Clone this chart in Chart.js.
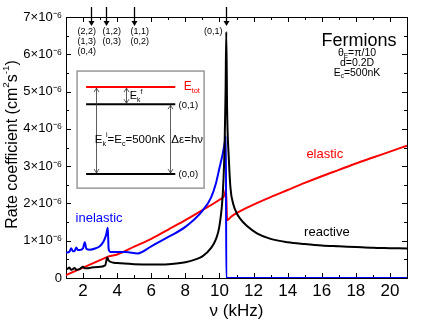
<!DOCTYPE html>
<html>
<head>
<meta charset="utf-8">
<script src="https://cdn.jsdelivr.net/npm/chart.js@4/dist/chart.umd.min.js"></script>
<style>
html, body { margin: 0; padding: 0; background: #fff; }
#wrap { width: 423px; height: 327px; position: relative; }
</style>
</head>
<body>
<div id="wrap"><canvas id="chart"></canvas></div>
<script>
const FONT = '"Liberation Sans", Arial, sans-serif';

// frequency nu in kHz, rates in units of 1e-6 cm^2 s^-1
const reactiveNu = [1.0, 1.1, 1.2, 1.3, 1.4, 1.5, 1.6, 1.8, 2.0, 2.1, 2.2, 2.5, 3.0, 3.3, 3.42, 3.5, 3.7, 4.0, 5.0, 6.0, 7.0, 8.0, 8.6, 9.0, 9.5, 9.8, 10.0, 10.2, 10.3, 10.36, 10.4, 10.45, 10.55, 10.65, 10.8, 11.0, 11.2, 11.6, 12.2, 13.0, 14.0, 15.0, 16.0, 17.0, 18.0, 19.0, 20.0, 21.0];
const reactiveRate = [0.22, 0.25, 0.28, 0.22, 0.24, 0.27, 0.22, 0.24, 0.3, 0.26, 0.26, 0.28, 0.3, 0.34, 0.55, 0.47, 0.42, 0.4, 0.37, 0.36, 0.37, 0.42, 0.5, 0.58, 0.8, 1.05, 1.4, 2.3, 3.5, 5.0, 6.6, 4.5, 3.2, 2.4, 2.0, 1.75, 1.6, 1.4, 1.2, 1.05, 0.96, 0.91, 0.87, 0.85, 0.83, 0.81, 0.8, 0.79];

const inelasticNu = [1.0, 1.2, 1.3, 1.4, 1.5, 1.6, 1.7, 1.8, 2.0, 2.1, 2.2, 2.4, 2.7, 3.0, 3.2, 3.35, 3.45, 3.5, 3.6, 4.0, 4.5, 5.2, 6.0, 7.0, 8.0, 9.0, 9.5, 9.8, 10.0, 10.2, 10.3, 10.38, 10.4, 12.0, 14.0, 16.0, 18.0, 20.0, 21.0];
const inelasticRate = [0.68, 0.7, 0.8, 0.72, 0.72, 0.82, 0.75, 0.75, 0.8, 0.96, 0.78, 0.76, 0.79, 0.86, 0.98, 1.15, 1.35, 0.78, 0.7, 0.7, 0.7, 0.66, 0.85, 1.1, 1.37, 1.8, 2.15, 2.55, 2.95, 3.35, 3.6, 3.8, 0, 0, 0, 0, 0, 0, 0];

const elasticNu = [1.0, 2.0, 3.0, 3.4, 3.5, 4.0, 5.0, 6.0, 7.0, 8.0, 9.0, 10.0, 10.3, 10.38, 10.45, 10.7, 11.0, 11.5, 12.0, 13.0, 14.0, 15.0, 16.0, 17.0, 18.0, 19.0, 20.0, 21.0];
const elasticRate = [0.08, 0.28, 0.48, 0.56, 0.58, 0.63, 0.84, 1.05, 1.3, 1.55, 1.82, 2.1, 2.22, 2.38, 1.55, 1.65, 1.74, 1.86, 1.97, 2.17, 2.36, 2.55, 2.73, 2.9, 3.07, 3.23, 3.39, 3.55];

// thresholds marked with arrows on top
const thresholdNu = [2.47, 3.35, 5.0, 10.4];
const thresholdLabels = [['(2,2)', '(1,3)', '(0,4)'], ['(1,2)', '(0,3)'], ['(1,1)', '(0,2)'], ['(0,1)']];

const xMin = 1, xMax = 21, yMin = 0, yMax = 7;

function toPoints(xs, ys) {
    return xs.map((x, i) => ({ x: x, y: ys[i] }));
}

function richText(ctx, parts, x, y, size, color, align) {
    const small = size * 0.62;
    const widths = parts.map(([t, m]) => {
        ctx.font = (m ? small : size) + 'px ' + FONT;
        return ctx.measureText(t).width;
    });
    const total = widths.reduce((a, b) => a + b, 0);
    let cx = align === 'center' ? x - total / 2 : (align === 'right' ? x - total : x);
    ctx.textAlign = 'left';
    ctx.textBaseline = 'middle';
    ctx.fillStyle = color;
    parts.forEach(([t, m], i) => {
        ctx.font = (m ? small : size) + 'px ' + FONT;
        const dy = m === 'sub' ? size * 0.35 : (m === 'sup' ? -size * 0.4 : 0);
        ctx.fillText(t, cx, y + dy);
        cx += widths[i];
    });
}

function doubleArrow(ctx, x, y1, y2) {
    const h = 4, w = 2.5;
    ctx.beginPath();
    ctx.moveTo(x, y1); ctx.lineTo(x, y2);
    ctx.moveTo(x - w, y1 + h); ctx.lineTo(x, y1); ctx.lineTo(x + w, y1 + h);
    ctx.moveTo(x - w, y2 - h); ctx.lineTo(x, y2); ctx.lineTo(x + w, y2 - h);
    ctx.stroke();
}

const frame = {
    id: 'frame',
    beforeDatasetsDraw(chart) {
        const { ctx, chartArea: a, scales: { x, y } } = chart;
        ctx.save();
        ctx.strokeStyle = '#000';
        ctx.lineWidth = 1;
        ctx.strokeRect(Math.round(a.left) + 0.5, Math.round(a.top) + 0.5, Math.round(a.right - a.left), Math.round(a.bottom - a.top));
        ctx.beginPath();
        for (let v = xMin; v <= xMax; v++) {
            const px = Math.round(x.getPixelForValue(v)) + 0.5;
            const len = v % 2 === 0 ? 5 : 3;
            ctx.moveTo(px, a.bottom); ctx.lineTo(px, a.bottom - len);
            ctx.moveTo(px, a.top); ctx.lineTo(px, a.top + len);
        }
        for (let v = yMin; v <= yMax; v += 0.5) {
            const py = Math.round(y.getPixelForValue(v)) + 0.5;
            const len = Number.isInteger(v) ? 5 : 3;
            ctx.moveTo(a.left, py); ctx.lineTo(a.left + len, py);
            ctx.moveTo(a.right, py); ctx.lineTo(a.right - len, py);
        }
        ctx.stroke();

        // y axis title, rotated
        ctx.translate(13, (a.top + a.bottom) / 2 - 3);
        ctx.rotate(-Math.PI / 2);
        richText(ctx, [['Rate coefficient (cm', ''], ['2', 'sup'], ['s', ''], ['-1', 'sup'], [')', '']], 0, 0, 16, '#000', 'center');
        ctx.restore();
    }
};

const notes = {
    id: 'notes',
    afterDatasetsDraw(chart) {
        const { ctx, chartArea: a, scales: { x, y } } = chart;
        const px = v => x.getPixelForValue(v);
        const py = v => y.getPixelForValue(v);
        ctx.save();

        // threshold arrows
        ctx.strokeStyle = '#000';
        ctx.fillStyle = '#000';
        thresholdNu.forEach((nu, i) => {
            const xx = Math.round(px(nu)) + 0.5;
            ctx.lineWidth = 1.3;
            ctx.beginPath();
            ctx.moveTo(xx, a.top - 10); ctx.lineTo(xx, a.top + 5);
            ctx.stroke();
            ctx.beginPath();
            ctx.moveTo(xx - 3, a.top + 4); ctx.lineTo(xx + 3, a.top + 4); ctx.lineTo(xx, a.top + 9);
            ctx.closePath();
            ctx.fill();
            const last = i === thresholdNu.length - 1;
            thresholdLabels[i].forEach((t, j) => {
                ctx.font = '9px ' + FONT;
                ctx.textBaseline = 'middle';
                ctx.textAlign = last ? 'right' : 'left';
                const tx = last ? xx - 4 : (i === 0 ? xx - 14 : xx - 4);
                ctx.fillText(t, tx, a.top + 15 + j * 10);
            });
        });

        // level diagram inset
        ctx.strokeStyle = '#999';
        ctx.lineWidth = 1.5;
        ctx.strokeRect(px(1.65), py(5.55), px(9.1) - px(1.65), py(2.41) - py(5.55));

        ctx.lineWidth = 2;
        ctx.strokeStyle = '#ff0000';
        ctx.beginPath(); ctx.moveTo(px(2.18), py(5.12)); ctx.lineTo(px(7.41), py(5.12)); ctx.stroke();
        ctx.strokeStyle = '#000';
        ctx.beginPath(); ctx.moveTo(px(2.18), py(4.66)); ctx.lineTo(px(7.41), py(4.66)); ctx.stroke();
        ctx.beginPath(); ctx.moveTo(px(2.18), py(2.79)); ctx.lineTo(px(7.41), py(2.79)); ctx.stroke();

        ctx.lineWidth = 0.8;
        ctx.strokeStyle = '#333';
        doubleArrow(ctx, Math.round(px(2.76)) + 0.5, py(5.12) + 1, py(2.79) - 1);
        doubleArrow(ctx, Math.round(px(4.53)) + 0.5, py(5.12) + 1, py(4.66) - 1);
        doubleArrow(ctx, Math.round(px(7.12)) + 0.5, py(4.66) + 1, py(2.79) - 1);

        richText(ctx, [['E', ''], ['tot', 'sub']], px(7.9), py(5.12), 12, '#ff0000', 'left');
        richText(ctx, [['(0,1)', '']], px(7.6), py(4.62), 9.5, '#000', 'left');
        richText(ctx, [['(0,0)', '']], px(7.6), py(2.77), 9.5, '#000', 'left');
        richText(ctx, [['E', ''], ['k', 'sub'], ['f', 'sup']], px(4.74), py(4.88), 11, '#000', 'left');
        richText(ctx, [['E', ''], ['k', 'sub'], ['i', 'sup'], ['=E', ''], ['c', 'sub'], ['=500nK', '']], px(4.76), py(3.7), 11.5, '#000', 'center');
        richText(ctx, [['\u0394\u03b5=h\u03bd', '']], px(7.18), py(3.7), 11.5, '#000', 'left');

        // series labels
        richText(ctx, [['inelastic', '']], px(2.94), py(1.61), 13, '#0000ff', 'center');
        richText(ctx, [['elastic', '']], px(16.18), py(3.32), 13, '#ff0000', 'center');
        richText(ctx, [['reactive', '']], px(16.3), py(1.23), 13, '#000', 'center');

        // system parameters
        richText(ctx, [['Fermions', '']], a.right - 48, a.top + 24, 18, '#000', 'center');
        richText(ctx, [['\u03b8', ''], ['E', 'sub'], ['=\u03c0/10', '']], a.right - 50, a.top + 36, 10.5, '#000', 'center');
        richText(ctx, [['d=0.2D', '']], a.right - 50, a.top + 46, 10.5, '#000', 'center');
        richText(ctx, [['E', ''], ['c', 'sub'], ['=500nK', '']], a.right - 50, a.top + 56, 10.5, '#000', 'center');

        ctx.restore();
    }
};

new Chart(document.getElementById('chart'), {
    type: 'line',
    data: {
        datasets: [{
            label: 'reactive',
            data: toPoints(reactiveNu, reactiveRate),
            borderColor: '#000000'
        }, {
            label: 'inelastic',
            data: toPoints(inelasticNu, inelasticRate),
            borderColor: '#0000ff'
        }, {
            label: 'elastic',
            data: toPoints(elasticNu, elasticRate),
            borderColor: '#ff0000'
        }]
    },
    options: {
        responsive: true,
        maintainAspectRatio: false,
        animation: false,
        layout: {
            padding: { top: 17, right: 16, left: 0, bottom: 0 }
        },
        elements: {
            point: { radius: 0 },
            line: { borderWidth: 2, fill: false, cubicInterpolationMode: 'monotone' }
        },
        plugins: {
            legend: { display: false },
            tooltip: { enabled: false }
        },
        scales: {
            x: {
                type: 'linear',
                min: xMin,
                max: xMax,
                afterFit: s => { s.height = 49; },
                grid: { display: false, drawTicks: false },
                border: { display: false },
                ticks: {
                    stepSize: 1,
                    autoSkip: false,
                    maxRotation: 0,
                    padding: 3,
                    color: '#000',
                    font: { family: FONT, size: 17 },
                    callback: v => v % 2 === 0 ? String(v) : ''
                },
                title: {
                    display: true,
                    text: '\u03bd (kHz)',
                    color: '#000',
                    font: { family: FONT, size: 17 },
                    padding: { top: 0, bottom: 5 }
                }
            },
            y: {
                min: yMin,
                max: yMax,
                afterFit: s => { s.width = 66; },
                grid: { display: false, drawTicks: false },
                border: { display: false },
                ticks: {
                    stepSize: 0.5,
                    autoSkip: false,
                    padding: 4,
                    color: '#000',
                    font: { family: FONT, size: 13 },
                    callback: v => Number.isInteger(v) ? (v === 0 ? '0' : v + '\u00d710\u207b\u2076') : ''
                }
            }
        }
    },
    plugins: [frame, notes]
});
</script>
</body>
</html>
